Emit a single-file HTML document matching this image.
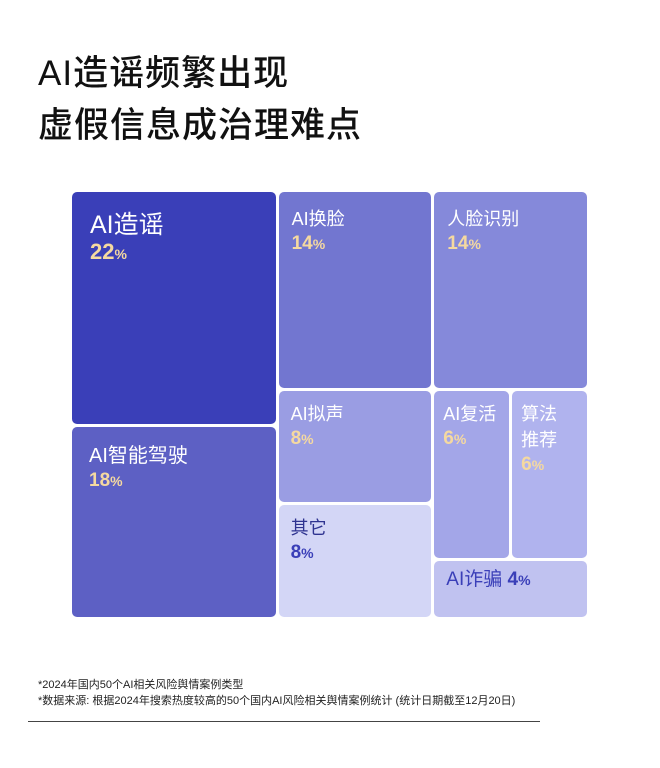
<!DOCTYPE html>
<html><head><meta charset="utf-8"><style>
body{margin:0;width:660px;height:768px;background:#fff;position:relative;overflow:hidden;font-family:"Liberation Sans","Noto Sans CJK SC",sans-serif}
.title{position:absolute;left:38px;top:48px;font-size:35px;line-height:52px;color:#111;font-weight:500;letter-spacing:1px}
.cell{position:absolute;border-radius:5px;box-sizing:border-box;padding:16px 0 0 17px;color:#fff;font-size:19px;line-height:24px}
.pct{color:#f5d9a0;font-weight:bold;font-size:19px}
.pct small{font-size:14px}
.note{position:absolute;left:38px;font-size:11px;color:#222}
</style></head><body>
<div class="title">AI造谣频繁出现<br>虚假信息成治理难点</div>
<div id="tm"></div>
<div class="note" style="top:676px">*2024年国内50个AI相关风险舆情案例类型</div>
<div class="note" style="top:692px">*数据来源: 根据2024年搜索热度较高的50个国内AI风险相关舆情案例统计 (统计日期截至12月20日)</div>
<div style="position:absolute;left:28px;top:721px;width:512px;height:1px;background:#444"></div>
<script>
const labels=["AI造谣","AI智能驾驶","AI换脸","AI拟声","其它","人脸识别","AI复活","算法推荐","AI诈骗"];
const values=[22,18,14,8,8,14,6,6,4];
const column=[0,0,1,1,1,2,2,2,2];
const colors=["#3a3fb8","#5d60c4","#7276d0","#9a9de3","#d3d6f6","#8589da","#a3a6e8","#b0b3ee","#c0c2f0"];
const X0=72,X1=587,Y0=192,Y1=617,G=3;
const total=values.reduce((a,b)=>a+b,0);
const colSum=[0,0,0];values.forEach((v,i)=>colSum[column[i]]+=v);
const W=X1-X0-2*G,H=Y1-Y0;
const xs=[];let acc=X0;for(let c=0;c<3;c++){const w=W*colSum[c]/total;xs.push([acc,w]);acc+=w+G;}
function rect(i){return null;}
const rects=[];
// cols 0 and 1: stacked
[0,1].forEach(c=>{let y=Y0;const idx=values.map((v,i)=>i).filter(i=>column[i]===c);const hh=H-G*(idx.length-1);
 idx.forEach(i=>{const h=hh*values[i]/colSum[c];rects[i]=[xs[c][0],y,xs[c][1],h];y+=h+G;});});
// col 2: first item full, next two side by side, last full
{const c=2,[cx,cw]=xs[c];const hh=H-2*G;const s=colSum[c];
 const h0=hh*values[5]/s;rects[5]=[cx,Y0,cw,h0];
 const y1=Y0+h0+G,h1=hh*(values[6]+values[7])/s;const ww=cw-G;
 const w6=ww*values[6]/(values[6]+values[7]);
 rects[6]=[cx,y1,w6,h1];rects[7]=[cx+w6+G,y1,ww-w6,h1];
 rects[8]=[cx,y1+h1+G,cw,hh*values[8]/s];}
const tm=document.getElementById('tm');
rects.forEach((r,i)=>{const d=document.createElement('div');


d.className='cell';d.style.left=r[0]+'px';d.style.top=r[1]+'px';d.style.width=r[2]+'px';d.style.height=r[3]+'px';d.style.background=colors[i];
const dark=i===4||i===8;const pc=dark?'#3a3fb8':'#f5d9a0';
let lab=labels[i];if(i===7)lab='算法<br>推荐';
const big=i===0;
if(i===8){d.style.padding='7px 0 0 12px';d.style.color='#3a3fb8';d.innerHTML=lab+' <span class="pct" style="color:'+pc+'">'+values[i]+'<small>%</small></span>';}
else{if(i>=5&&i!==5){d.style.padding='10px 0 0 9px';}
 if(i===3){d.style.padding='10px 0 0 12px';}
 if(i===4){d.style.padding='10px 0 0 12px';}
 if(i===2||i===5){d.style.padding='14px 0 0 13px';}
 if(dark)d.style.color='#2e3390';
 const fs=big?'25px':(i===1?'20px':'18px');
 d.innerHTML='<div style="font-size:'+fs+';line-height:'+(big?'30px':'26px')+'">'+lab+'</div><div class="pct" style="color:'+pc+';font-size:'+(big?'22px':'19px')+'">'+values[i]+'<small>%</small></div>';}
if(big)d.style.padding='18px 0 0 18px';
tm.appendChild(d);});
</script>
</body></html>
